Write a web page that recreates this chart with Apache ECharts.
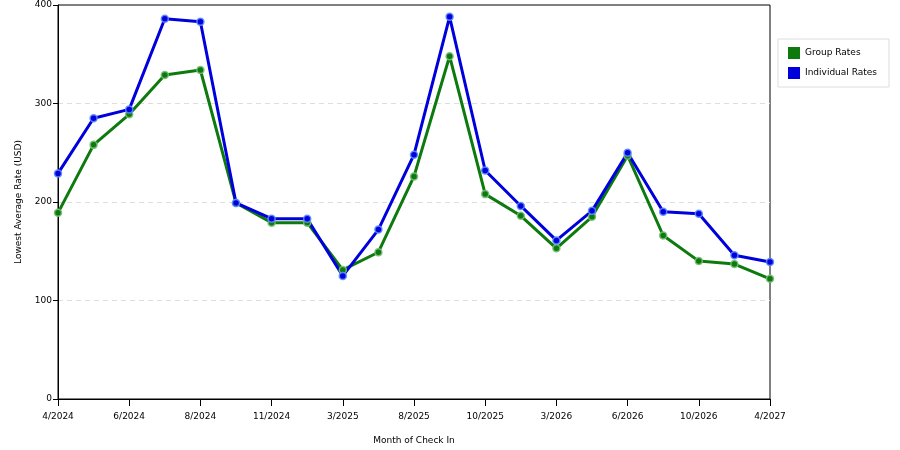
<!DOCTYPE html>
<html>
<head>
<meta charset="utf-8">
<script src="https://cdn.jsdelivr.net/npm/echarts@6/dist/echarts.min.js"></script>
<style>
    html, body { margin: 0; padding: 0; background: #fff; }
    #chart { width: 900px; height: 450px; }
</style>
</head>
<body>
<div id="chart"></div>
<script>
    // 入住月份 (only every other one is labelled on the axis)
    var months = ['4/2024', '5/2024', '6/2024', '7/2024', '8/2024', '10/2024', '11/2024', '12/2024',
        '3/2025', '6/2025', '8/2025', '9/2025', '10/2025', '11/2025', '3/2026', '5/2026',
        '6/2026', '8/2026', '10/2026', '12/2026', '4/2027'];

    var groupRates = [189, 258, 289, 329, 334, 199, 179, 179, 131, 149, 226, 348,
        208, 186, 153, 185, 247, 166, 140, 137, 122];

    var individualRates = [229, 285, 294, 386, 383, 199, 183, 183, 125, 172, 248, 388,
        232, 196, 161, 191, 250, 190, 188, 146, 139];

    var yTicks = [0, 100, 200, 300, 400];

    var fontFamily = 'DejaVu Sans, Verdana, sans-serif';

    var chart = echarts.init(document.getElementById('chart'));

    function lineSeries(name, data, color, halo) {
        return {
            name: name,
            type: 'line',
            data: data,
            symbol: 'circle',
            symbolSize: 7,
            lineStyle: { color: color, width: 3 },
            itemStyle: { color: color, borderColor: halo, borderWidth: 1.5 },
            emphasis: { disabled: true },
            animation: false
        };
    }

    var option = {
        backgroundColor: '#fff',
        textStyle: { fontFamily: fontFamily },
        grid: {
            left: 58,
            right: 130,
            top: 5,
            bottom: 50,
            show: true,
            borderColor: '#000',
            borderWidth: 1
        },
        legend: {
            orient: 'vertical',
            right: 11,
            top: 39,
            padding: [8, 12, 8, 10],
            borderColor: '#ddd',
            borderWidth: 1,
            itemWidth: 12,
            itemHeight: 12,
            itemGap: 8,
            icon: 'rect',
            textStyle: { fontSize: 9, color: '#000', fontFamily: fontFamily },
            data: [
                { name: 'Group Rates', itemStyle: { color: '#0d7a0d', borderWidth: 0 } },
                { name: 'Individual Rates', itemStyle: { color: '#0000dd', borderWidth: 0 } }
            ]
        },
        xAxis: {
            type: 'category',
            data: months,
            boundaryGap: false,
            name: 'Month of Check In',
            nameLocation: 'middle',
            nameGap: 37,
            nameTextStyle: { fontSize: 9, color: '#000', fontFamily: fontFamily },
            axisLine: { lineStyle: { color: '#000', width: 1 } },
            axisTick: { interval: 1, length: 7, lineStyle: { color: '#000' } },
            axisLabel: { interval: 1, fontSize: 9, color: '#000', margin: 13, fontFamily: fontFamily },
            splitLine: { show: false }
        },
        yAxis: {
            type: 'value',
            min: yTicks[0],
            max: yTicks[yTicks.length - 1],
            interval: 100,
            name: 'Lowest Average Rate (USD)',
            nameLocation: 'middle',
            nameGap: 35,
            nameTextStyle: { fontSize: 9, color: '#000', fontFamily: fontFamily },
            axisLine: { show: true, lineStyle: { color: '#000', width: 1 } },
            axisTick: { show: true, length: 5, lineStyle: { color: '#000' } },
            axisLabel: { fontSize: 9, color: '#000', margin: 6, fontFamily: fontFamily },
            splitLine: {
                show: true,
                showMinLine: false,
                showMaxLine: false,
                lineStyle: { color: '#ddd', type: [5, 4] }
            }
        },
        series: [
            lineSeries('Group Rates', groupRates, '#0d7a0d', 'rgba(120,190,120,0.9)'),
            lineSeries('Individual Rates', individualRates, '#0000dd', 'rgba(90,140,255,0.9)')
        ]
    };

    chart.setOption(option);
</script>
</body>
</html>
